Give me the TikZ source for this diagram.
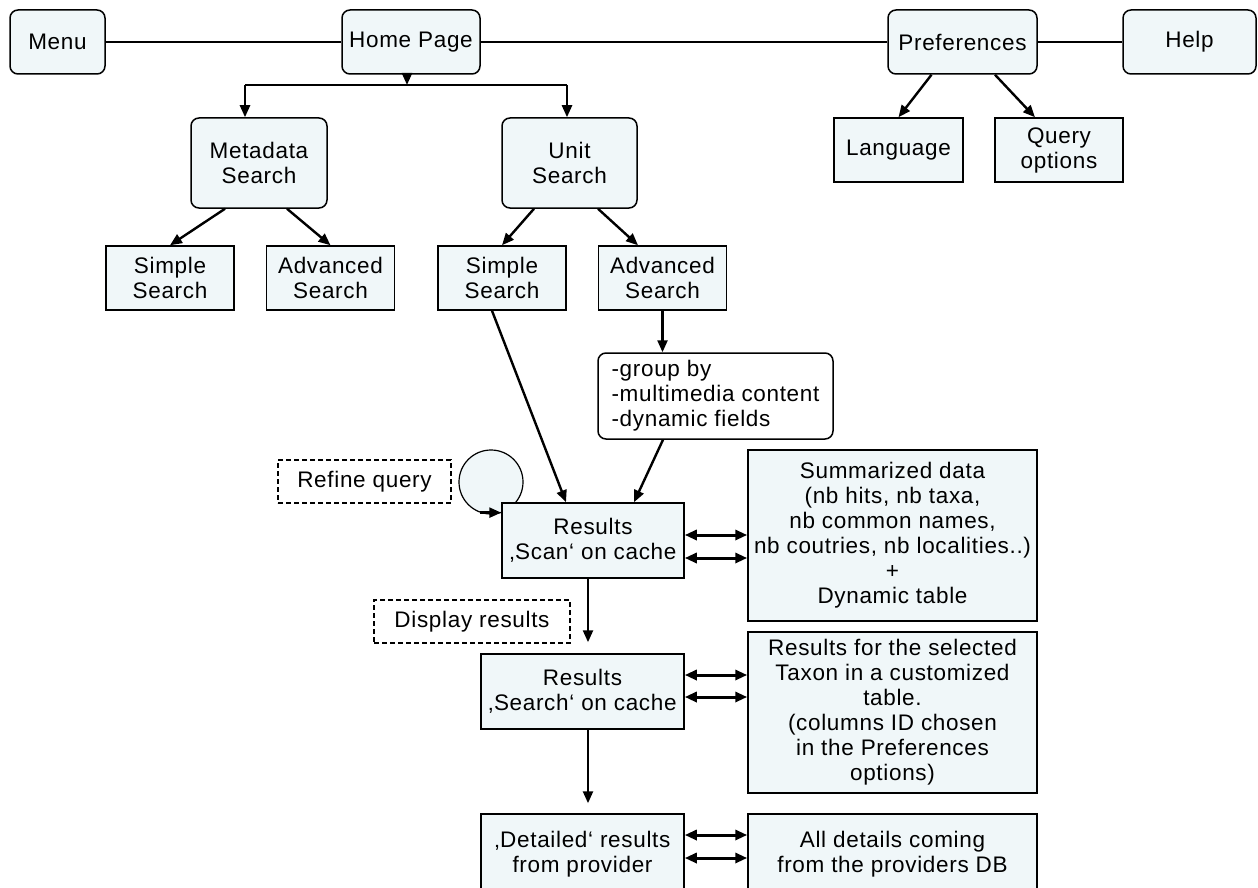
\documentclass[tikz,border=0pt]{standalone}
\usepackage{fontspec}
\setmainfont{Liberation Sans}[LetterSpace=3]
\usetikzlibrary{arrows.meta}
\definecolor{boxfill}{RGB}{240,247,249}

\begin{document}
\begin{tikzpicture}[x=1pt, y=-1pt, >={Triangle[length=12pt, width=10pt]},
	font=\fontsize{22.5}{25}\selectfont,
	every box/.style={draw, line width=1.5pt, fill=boxfill, align=center, inner sep=0pt},
	page/.style={every box, rounded corners=8pt},
	leaf/.style={every box},
	note/.style={draw, line width=1.5pt, dash pattern=on 5pt off 3pt, inner sep=0pt},
	flow/.style={->, line width=2.4pt},
	link/.style={<->, line width=3pt}]
	
	\useasboundingbox (0,0) rectangle (1258,888);
	
	\foreach \n/\x/\w/\t in {menu/57.5/95/Menu, home/411/138/Home Page, prefs/962.5/149/Preferences, help/1189.5/133/Help}
	\node [page, minimum width=\w pt, minimum height=64pt] (\n) at (\x,42) {\t};
	
	\node [page, minimum width=136pt, minimum height=90pt] (meta) at (259,163) {Metadata\\Search};
	\node [page, minimum width=135pt, minimum height=90pt] (unit) at (569.5,163) {Unit\\Search};
	
	\node [leaf, minimum width=129pt, minimum height=64pt] (lang) at (898.5,150) {Language};
	\node [leaf, minimum width=128pt, minimum height=64pt] (qopt) at (1059,150) {Query\\options};
	
	\foreach \n/\x/\t in {msimple/170/Simple\\Search, madv/330.5/Advanced\\Search, usimple/502/Simple\\Search, uadv/662.5/Advanced\\Search}
	\node [leaf, minimum width=128pt, minimum height=64pt] (\n) at (\x,278) {\t};
	
	\node [page, fill=white, align=left, minimum width=235pt, minimum height=86pt] (group) at (715.5,396) {-group by\\-multimedia content\\-dynamic fields};
	
	\node [note, minimum width=173pt, minimum height=43pt] (refine) at (364.5,481.5) {Refine query};
	\node [circle, draw, line width=1.2pt, fill=boxfill, minimum size=64pt, inner sep=0pt] (loop) at (491,482) {};
	
	\node [leaf, minimum width=182pt, minimum height=75pt] (scan) at (593,540.5) {Results\\‚Scan‘ on cache};
	\node [leaf, minimum width=289pt, minimum height=171pt] (summ) at (892.5,535.5) {Summarized data\\(nb hits, nb taxa,\\nb common names,\\nb coutries, nb localities..)\\+\\Dynamic table};
	
	\node [note, minimum width=196pt, minimum height=43pt] (display) at (472,621.5) {Display results};
	
	\node [leaf, minimum width=203pt, minimum height=75pt] (search) at (582.5,691.5) {Results\\‚Search‘ on cache};
	\node [leaf, minimum width=289pt, minimum height=161pt] (selres) at (892.5,712.5) {Results for the selected\\Taxon in a customized\\table.\\(columns ID chosen\\in the Preferences\\options)};
	
	\node [leaf, minimum width=203pt, minimum height=80pt] (detail) at (582.5,854) {‚Detailed‘ results\\from provider};
	\node [leaf, minimum width=289pt, minimum height=80pt] (alldet) at (892.5,854) {All details coming\\from the providers DB};
	
	\draw [line width=1.5pt] (menu) -- (home) -- (prefs) -- (help);
	
	\coordinate (fork) at (407,85);
	\coordinate (forkl) at (245,85);
	\coordinate (forkr) at (567,85);
	\draw [flow] (home.south -| fork) -- (fork);
	\draw [line width=2.4pt] (forkl) -- (forkr);
	\draw [flow] (forkl) -- (forkl |- meta.north);
	\draw [flow] (forkr) -- (forkr |- unit.north);
	
	\draw [flow] ([xshift=-31pt]prefs.south) -- (lang.north);
	\draw [flow] ([xshift=32.5pt]prefs.south) -- ([xshift=-24pt]qopt.north);
	
	\draw [flow] ([xshift=-34pt]meta.south) -- (msimple.north);
	\draw [flow] ([xshift=28pt]meta.south) -- (madv.north);
	\draw [flow] ([xshift=-35.5pt]unit.south) -- (usimple.north);
	\draw [flow] ([xshift=28.5pt]unit.south) -- ([xshift=-24.5pt]uadv.north);
	
	\draw [flow] (uadv.south) -- (uadv.south |- group.north);
	\draw [flow] ([xshift=-10pt]usimple.south) -- ([xshift=-27pt]scan.north);
	\draw [flow] ([xshift=-52.5pt]group.south) -- ([xshift=41pt]scan.north);
	
	\draw [flow] (loop.250) -- (loop.250 -| scan.west);
	
	\draw [flow, shorten >=11pt] ([xshift=-5pt]scan.south) -- ([xshift=-5pt]scan.south |- search.north);
	\draw [flow, shorten >=10pt] ([xshift=5.5pt]search.south) -- ([xshift=5.5pt]search.south |- detail.north);
	
	\foreach \a/\b/\s in {scan/summ/5.5, scan/summ/-17.5, search/selres/16.5, search/selres/-5.5, detail/alldet/19, detail/alldet/-4}
	\draw [link] ([yshift=\s pt]\a.east) -- ([yshift=\s pt]\a.east -| \b.west);
	
\end{tikzpicture}
\end{document}
